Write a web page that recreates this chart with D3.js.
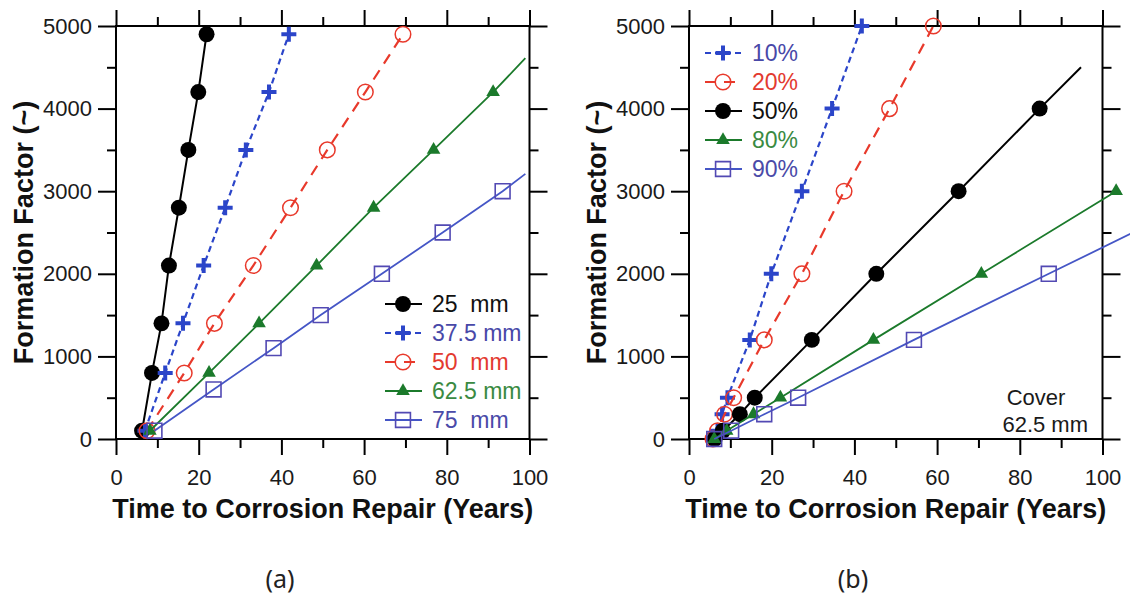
<!DOCTYPE html>
<html>
<head>
<meta charset="utf-8">
<script src="https://cdn.jsdelivr.net/npm/d3@7"></script>
<style>
  body { margin: 0; background: #fff; }
  svg { display: block; font-family: "Liberation Sans", Arial, Helvetica, sans-serif; }
</style>
</head>
<body>
<div id="chart"></div>
<script>
// ---------- panel (a): cover depth ----------
const coverNames = ["25  mm", "37.5 mm", "50  mm", "62.5 mm", "75  mm"];
const ffCover = [100, 800, 1400, 2100, 2800, 3500, 4200, 4900];
const yearsCover25 = [6.3, 8.7, 11.0, 12.8, 15.2, 17.5, 19.9, 21.9];
const yearsCover375 = [7.0, 11.9, 16.2, 21.2, 26.4, 31.4, 37.0, 41.8];
const yearsCover50 = [7.5, 16.5, 23.8, 33.2, 42.2, 51.1, 60.3, 69.4];
const ffCover625 = [100, 800, 1400, 2100, 2800, 3500, 4200];
const yearsCover625 = [8.2, 22.5, 34.6, 48.5, 62.3, 76.8, 91.2];
const ffCover75 = [100, 600, 1100, 1500, 2000, 2500, 3000];
const yearsCover75 = [9.3, 23.6, 38.1, 49.5, 64.3, 79.0, 93.5];
// the fitted lines run on past the last marker: [years, formation factor]
const tailCover625 = [99, 4610];
const tailCover75 = [99, 3210];

// ---------- panel (b): degree of saturation ----------
const satNames = ["10%", "20%", "50%", "80%", "90%"];
const ffSat = [0, 100, 300, 500, 1200, 2000, 3000, 4000, 5000];
const yearsSat10 = [6.0, 6.9, 8.0, 9.3, 14.7, 19.9, 27.3, 34.6, 41.8];
const yearsSat20 = [5.8, 6.9, 8.6, 10.8, 18.2, 27.3, 37.5, 48.5, 59.1];
const ffSat50 = [0, 100, 300, 500, 1200, 2000, 3000, 4000];
const yearsSat50 = [6.2, 8.2, 12.3, 15.9, 29.7, 45.3, 65.2, 84.8];
const ffSat80 = [0, 100, 300, 500, 1200, 2000, 3000];
const yearsSat80 = [6.1, 9.1, 15.6, 22.1, 44.6, 70.7, 103.3];
const ffSat90 = [0, 100, 300, 500, 1200, 2000];
const yearsSat90 = [6.1, 10.2, 18.2, 26.4, 54.4, 87.0];
const tailSat50 = [94.8, 4500];
const tailSat90 = [107, 2490];

// ticks
const xMajor = [0, 20, 40, 60, 80, 100];
const xMinor = [10, 30, 50, 70, 90];
const yMajor = [0, 1000, 2000, 3000, 4000, 5000];
const yMinor = [500, 1500, 2500, 3500, 4500];

const W = 1130, H = 595;

// line / marker looks
const look = {
    dot:  {color: "#000000", text: "#111111", dash: null,   width: 2},
    plus: {color: "#2b45c9", text: "#4848a8", dash: "6,4",  width: 2.2},
    ring: {color: "#e8392b", text: "#e33a2f", dash: "11,8", width: 2.2},
    tri:  {color: "#1b7a2b", text: "#3a8a42", dash: null,   width: 1.8},
    box:  {color: "#4556c6", text: "#4a4aa8", dash: null,   width: 1.8}
};

const zip = (xs, ys) => xs.map((d, i) => [d, ys[i]]);

const panelA = {
    left: 116,
    label: "(a)", labelX: 280,
    legendX: 385, legendY: 304,
    series: [
        {name: coverNames[0], kind: "dot",  pts: zip(yearsCover25, ffCover)},
        {name: coverNames[1], kind: "plus", pts: zip(yearsCover375, ffCover)},
        {name: coverNames[2], kind: "ring", pts: zip(yearsCover50, ffCover)},
        {name: coverNames[3], kind: "tri",  pts: zip(yearsCover625, ffCover625), tail: tailCover625},
        {name: coverNames[4], kind: "box",  pts: zip(yearsCover75, ffCover75), tail: tailCover75}
    ]
};

const panelB = {
    left: 689,
    label: "(b)", labelX: 853,
    legendX: 705, legendY: 53,
    note: ["Cover", "62.5 mm"],
    series: [
        {name: satNames[0], kind: "plus", pts: zip(yearsSat10, ffSat)},
        {name: satNames[1], kind: "ring", pts: zip(yearsSat20, ffSat)},
        {name: satNames[2], kind: "dot",  pts: zip(yearsSat50, ffSat50), tail: tailSat50},
        {name: satNames[3], kind: "tri",  pts: zip(yearsSat80, ffSat80)},
        {name: satNames[4], kind: "box",  pts: zip(yearsSat90, ffSat90), tail: tailSat90}
    ]
};

const svg = d3.select("#chart").append("svg")
    .attr("width", W)
    .attr("height", H);

svg.append("rect").attr("width", W).attr("height", H).attr("fill", "#fff");

function drawMarker(g, kind) {
    const c = look[kind].color;
    if (kind === "dot") {
        g.append("path").attr("d", d3.symbol(d3.symbolCircle, 200)()).attr("fill", c);
    } else if (kind === "ring") {
        g.append("path").attr("d", d3.symbol(d3.symbolCircle, 190)())
            .attr("fill", "none").attr("stroke", c).attr("stroke-width", 1.5);
    } else if (kind === "plus") {
        g.append("path").attr("d", "M-7.5,0H7.5M0,-7.5V7.5")
            .attr("fill", "none").attr("stroke", c).attr("stroke-width", 4);
    } else if (kind === "tri") {
        g.append("path").attr("d", d3.symbol(d3.symbolTriangle, 80)()).attr("fill", c);
    } else {
        g.append("path").attr("d", d3.symbol(d3.symbolSquare, 220)())
            .attr("fill", "none").attr("stroke", "#5249b3").attr("stroke-width", 1.6);
    }
}

function styleAxis(g) {
    g.select(".domain").remove();
    g.selectAll(".tick line").attr("stroke", "#000").attr("stroke-width", 2);
    g.selectAll(".tick text").attr("font-size", 22).attr("fill", "#1a1a1a");
}

function drawPanel(p) {
    const x = d3.scaleLinear().domain([0, 100]).range([p.left, p.left + 413.5]);
    const y = d3.scaleLinear().domain([0, 5000]).range([439, 26]);
    const g = svg.append("g");

    // axes on all four sides, ticks pointing out
    g.append("g").attr("transform", `translate(0,${y(0)})`)
        .call(d3.axisBottom(x).tickValues(xMajor).tickSize(16).tickPadding(14).tickFormat(d3.format("d")))
        .call(styleAxis);
    g.append("g").attr("transform", `translate(0,${y(0)})`)
        .call(d3.axisBottom(x).tickValues(xMinor).tickSize(9).tickFormat(""))
        .call(styleAxis);
    g.append("g").attr("transform", `translate(0,${y(5000)})`)
        .call(d3.axisTop(x).tickValues(xMajor).tickSize(16).tickFormat(""))
        .call(styleAxis);
    g.append("g").attr("transform", `translate(0,${y(5000)})`)
        .call(d3.axisTop(x).tickValues(xMinor).tickSize(9).tickFormat(""))
        .call(styleAxis);
    g.append("g").attr("transform", `translate(${x(0)},0)`)
        .call(d3.axisLeft(y).tickValues(yMajor).tickSize(18).tickPadding(6).tickFormat(d3.format("d")))
        .call(styleAxis);
    g.append("g").attr("transform", `translate(${x(0)},0)`)
        .call(d3.axisLeft(y).tickValues(yMinor).tickSize(9).tickFormat(""))
        .call(styleAxis);
    g.append("g").attr("transform", `translate(${x(100)},0)`)
        .call(d3.axisRight(y).tickValues(yMajor).tickSize(18).tickFormat(""))
        .call(styleAxis);
    g.append("g").attr("transform", `translate(${x(100)},0)`)
        .call(d3.axisRight(y).tickValues(yMinor).tickSize(9).tickFormat(""))
        .call(styleAxis);

    g.append("rect")
        .attr("x", x(0)).attr("y", y(5000))
        .attr("width", x(100) - x(0)).attr("height", y(0) - y(5000))
        .attr("fill", "none").attr("stroke", "#000").attr("stroke-width", 2);

    // axis titles
    g.append("text")
        .attr("x", (x(0) + x(100)) / 2).attr("y", 518)
        .attr("text-anchor", "middle")
        .attr("font-size", 27).attr("font-weight", "bold").attr("fill", "#111")
        .text("Time to Corrosion Repair (Years)");
    g.append("text")
        .attr("transform", `translate(${x(0) - 83},${(y(0) + y(5000)) / 2}) rotate(-90)`)
        .attr("text-anchor", "middle")
        .attr("font-size", 27).attr("font-weight", "bold").attr("fill", "#111")
        .text("Formation Factor (~)");

    // series
    const line = d3.line().x(d => x(d[0])).y(d => y(d[1]));
    p.series.forEach(s => {
        const st = look[s.kind];
        const path = s.tail ? s.pts.concat([s.tail]) : s.pts;
        g.append("path")
            .attr("d", line(path))
            .attr("fill", "none")
            .attr("stroke", st.color)
            .attr("stroke-width", st.width)
            .attr("stroke-dasharray", st.dash);
        s.pts.forEach(d => {
            const m = g.append("g").attr("transform", `translate(${x(d[0])},${y(d[1])})`);
            drawMarker(m, s.kind);
        });
    });

    // legend
    p.series.forEach((s, i) => {
        const st = look[s.kind];
        const row = g.append("g").attr("transform", `translate(${p.legendX},${p.legendY + i * 29})`);
        row.append("line")
            .attr("x1", 0).attr("x2", 37)
            .attr("stroke", st.color).attr("stroke-width", st.width)
            .attr("stroke-dasharray", st.dash);
        drawMarker(row.append("g").attr("transform", "translate(18,0)"), s.kind);
        row.append("text")
            .attr("x", 47).attr("y", 8)
            .attr("font-size", 23)
            .attr("fill", st.text)
            .style("white-space", "pre")
            .text(s.name);
    });

    if (p.note) {
        g.append("text").attr("x", 1036).attr("y", 405)
            .attr("text-anchor", "middle").attr("font-size", 22).attr("fill", "#1a1a1a")
            .text(p.note[0]);
        g.append("text").attr("x", 1088).attr("y", 432)
            .attr("text-anchor", "end").attr("font-size", 22).attr("fill", "#1a1a1a")
            .text(p.note[1]);
    }

    svg.append("text")
        .attr("x", p.labelX).attr("y", 588)
        .attr("text-anchor", "middle")
        .attr("font-family", "'Noto Sans', 'Open Sans', sans-serif")
        .attr("font-size", 25).attr("fill", "#222")
        .text(p.label);
}

drawPanel(panelA);
drawPanel(panelB);
</script>
</body>
</html>
